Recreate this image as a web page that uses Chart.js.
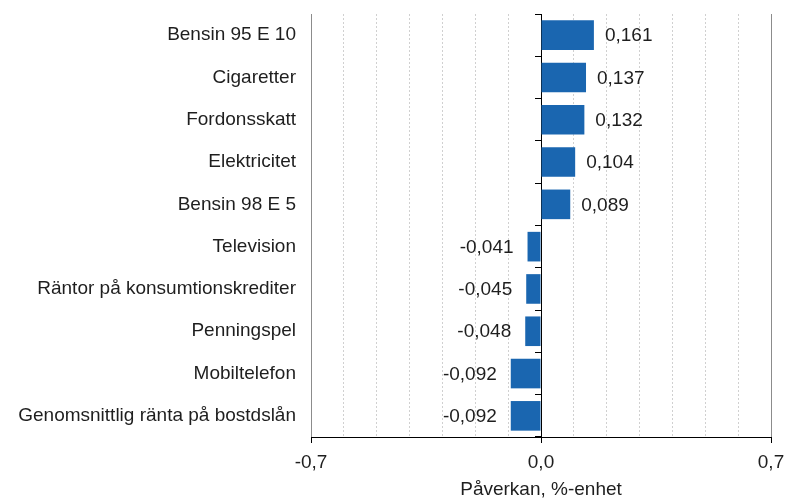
<!DOCTYPE html>
<html>
<head>
<meta charset="utf-8">
<script src="https://cdn.jsdelivr.net/npm/chart.js@4"></script>
<style>
  html, body { margin: 0; padding: 0; background: #fff; }
  #wrap { width: 788px; height: 501px; }
</style>
</head>
<body>
<div id="wrap"><canvas id="chart"></canvas></div>
<script>
"use strict"

// categories, top to bottom
const labels = [
  "Bensin 95 E 10",
  "Cigaretter",
  "Fordonsskatt",
  "Elektricitet",
  "Bensin 98 E 5",
  "Television",
  "Räntor på konsumtionskrediter",
  "Penningspel",
  "Mobiltelefon",
  "Genomsnittlig ränta på bostdslån",
];

// impact, percentage points
const values = [0.161, 0.137, 0.132, 0.104, 0.089, -0.041, -0.045, -0.048, -0.092, -0.092];

// only these x ticks get a label
const labelledTicks = [-0.7, 0, 0.7];

const FONT = "'Liberation Sans', Arial, sans-serif";
const TEXT = "#1e1e1e";
const SIZE = 19;

const fmt = v => v.toFixed(3).replace(".", ",");
const isLabelled = v => labelledTicks.some(t => Math.abs(t - v) < 1e-6);
const noPad = s => { s.paddingTop = 0; s.paddingBottom = 0; s.paddingLeft = 0; s.paddingRight = 0; };

// value labels next to the bars
const valueLabels = {
  id: "valueLabels",
  afterDatasetsDraw(chart) {
    const ctx = chart.ctx;
    const meta = chart.getDatasetMeta(0);
    ctx.save();
    ctx.font = SIZE + "px " + FONT;
    ctx.fillStyle = TEXT;
    ctx.textBaseline = "middle";
    meta.data.forEach((bar, i) => {
      const v = values[i];
      if (v >= 0) {
        ctx.textAlign = "left";
        ctx.fillText(fmt(v), bar.x + 11, bar.y + 1);
      } else {
        ctx.textAlign = "right";
        ctx.fillText(fmt(v), bar.x - 14, bar.y + 1);
      }
    });
    ctx.restore();
  }
};

const data = {
  labels: labels,
  datasets: [{
    data: values,
    yAxisID: "y",
    backgroundColor: "#1a66b0",
    barPercentage: 0.7,
    categoryPercentage: 1.0,
  }]
};

const config = {
  type: "bar",
  data: data,
  options: {
    indexAxis: "y",
    responsive: true,
    maintainAspectRatio: false,
    animation: false,
    layout: { padding: { top: 14, right: 17, bottom: 0, left: 0 } },
    plugins: {
      legend: { display: false },
      tooltip: { enabled: false },
    },
    scales: {
      x: {
        type: "linear",
        min: -0.7,
        max: 0.7,
        afterFit: s => { s.height = 64; noPad(s); },
        ticks: {
          stepSize: 0.1,
          autoSkip: false,
          maxRotation: 0,
          padding: 8,
          color: TEXT,
          font: { family: FONT, size: SIZE },
          callback: v => isLabelled(v) ? v.toFixed(1).replace(".", ",") : "",
        },
        grid: {
          color: c => {
            const v = c.tick ? c.tick.value : null;
            if (v === null) return "#c8c8c8";
            if (Math.abs(v) < 1e-6) return "#000";
            if (isLabelled(v)) return "#8c8c8c";
            return "#d0d0d0";
          },
          lineWidth: 1,
          tickLength: 6,
          tickColor: c => (c.tick && isLabelled(c.tick.value)) ? "#000" : "rgba(0,0,0,0)",
        },
        border: {
          display: true,
          color: "#000",
          dash: c => (c.tick && !isLabelled(c.tick.value)) ? [2, 2] : [],
        },
        title: {
          display: true,
          text: "Påverkan, %-enhet",
          color: TEXT,
          font: { family: FONT, size: SIZE },
          padding: { top: 0, bottom: 0 },
        },
      },
      y: {
        type: "category",
        position: "left",
        afterFit: s => { s.width = 311; noPad(s); },
        ticks: {
          padding: 15,
          color: TEXT,
          font: { family: FONT, size: SIZE },
        },
        grid: { display: false, drawTicks: false },
        border: { display: false },
      },
      // category tick marks on the zero line
      y2: {
        type: "category",
        axis: "y",
        labels: labels,
        position: { x: 0 },
        offset: true,
        afterFit: noPad,
        ticks: { display: false },
        grid: {
          drawOnChartArea: false,
          drawTicks: true,
          tickLength: 6,
          tickColor: "#000",
          offset: true,
        },
        border: { display: false },
      },
    }
  },
  plugins: [valueLabels]
};

const canvas = document.querySelector("#chart");
const chart = new Chart(canvas, config);
</script>
</body>
</html>
